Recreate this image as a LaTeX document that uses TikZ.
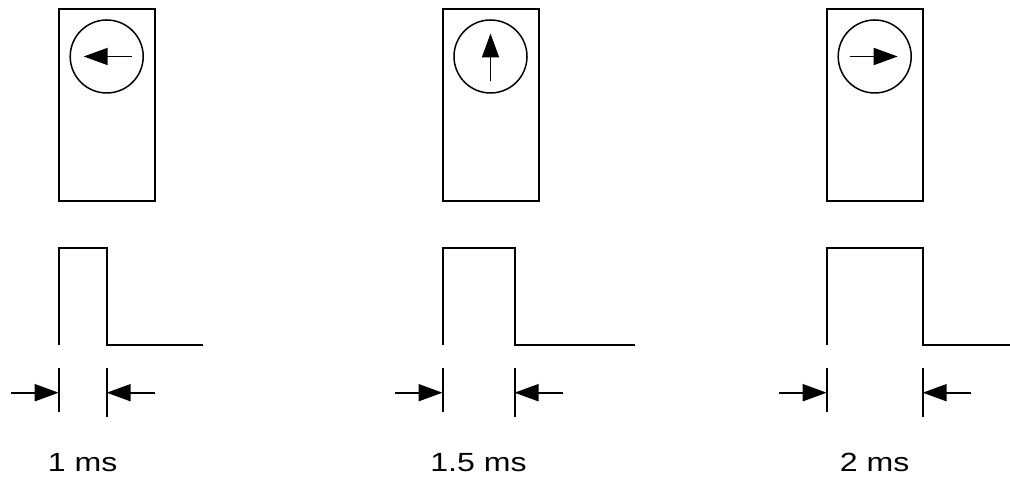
\documentclass[tikz,border=0pt]{standalone}
\usepackage{fontspec}
\usetikzlibrary{arrows.meta,calc}
\newfontfamily\labelfont[FakeStretch=1.22]{Liberation Sans}

\begin{document}
\begin{tikzpicture}[x=1pt, y=1pt,
    servo/.style={draw, line width=2pt, minimum width=96pt, minimum height=191.7pt, inner sep=0pt},
    dial/.style={draw, circle, line width=1.5pt, minimum size=73pt, inner sep=0pt},
    pointer/.style={line width=1.8pt, -{Triangle[length=24pt, width=17pt]}},
    signal/.style={line width=2pt},
    tickmark/.style={line width=2pt},
    span/.style={line width=1.8pt, -{Triangle[length=24pt, width=17pt]}},
    caption/.style={anchor=base, inner sep=0pt, font=\labelfont\fontsize{26.3}{30}\selectfont}]
  \useasboundingbox (0,0) rectangle (1010,478);
  \foreach \x/\w/\e/\a/\t [count=\i] in {58.7/48/203.3/180/1 ms, 442.5/72/635/90/1.5 ms, 826.7/96/1012/0/2 ms} {
    % servo body and horn direction
    \node[servo] (servo\i) at (\x+48,373.15) {};
    \node[dial] (dial\i) at (\x+48,421.5) {};
    \draw[pointer] ($(dial\i)-(\a:25)$) -- ($(dial\i)+(\a:23)$);
    % control pulse
    \draw[signal] (\x,133) -- (\x,229.7) -- (\x+\w,229.7) -- (\x+\w,133) -- (\e,133);
    % pulse width marks
    \coordinate (rise\i) at (\x,85.3);
    \coordinate (fall\i) at (\x+\w,85.3);
    \draw[tickmark] (\x,109.7) -- (\x,65.7);
    \draw[tickmark] (\x+\w,109.7) -- (\x+\w,60.7);
    \draw[span] ([xshift=-48pt]rise\i) -- (rise\i);
    \draw[span] ([xshift=48pt]fall\i) -- (fall\i);
    \node[caption] (label\i) at (\x+\w/2,6.3) {\t};
  }
\end{tikzpicture}
\end{document}
